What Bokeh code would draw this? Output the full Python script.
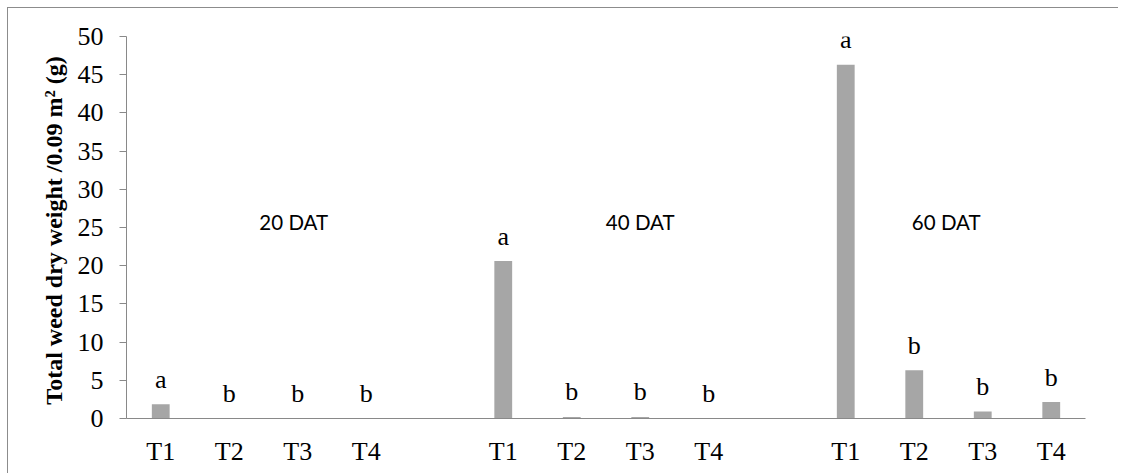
from bokeh.plotting import figure
from bokeh.models import FactorRange, Range1d, FixedTicker, ColumnDataSource
from bokeh.core.properties import value
from bokeh.embed import file_html
from bokeh.resources import INLINE

# ---- data ----
groups = ["20 DAT", "40 DAT", "60 DAT"]
treatments = ["T1", "T2", "T3", "T4"]
dry_weight_20 = [1.85, 0.02, 0.02, 0.02]
dry_weight_40 = [20.6, 0.2, 0.2, 0.05]
dry_weight_60 = [46.3, 6.3, 0.9, 2.15]
letters_20 = ["a", "b", "b", "b"]
letters_40 = ["a", "b", "b", "b"]
letters_60 = ["a", "b", "b", "b"]
y_ticks = [0, 5, 10, 15, 20, 25, 30, 35, 40, 45, 50]
y_title = "Total weed dry weight  /0.09 m\u00b2 (g)"

factors = [(g, t) for g in groups for t in treatments]
values = dry_weight_20 + dry_weight_40 + dry_weight_60
letters = letters_20 + letters_40 + letters_60
src = ColumnDataSource(dict(x=factors, top=values, letter=letters))

SERIF = "Liberation Serif"
GRAY = "#898989"
BAR = "#A6A6A6"

p = figure(
    width=1111, height=466,
    x_range=FactorRange(*factors, group_padding=1.0, range_padding=0),
    y_range=Range1d(0, 50),
    output_backend="svg", toolbar_location=None,
    min_border_left=118, min_border_right=34, min_border_top=28, min_border_bottom=56,
    styles={"margin-left": "8px", "margin-top": "8px", "overflow": "hidden",
            "box-shadow": "-1px -1px 0px 0px #8c8c8c"},
)
p.outline_line_color = None
p.border_fill_color = "white"
p.xgrid.visible = False
p.ygrid.visible = False

p.vbar(x="x", top="top", width=0.26, source=src, fill_color=BAR, line_color=None)

p.text(x="x", y="top", text="letter", source=src, y_offset=-25,
       text_align="center", text_baseline="alphabetic",
       text_font=value(SERIF), text_font_size="26px", text_color="black")

p.text(x=[("20 DAT", "T3"), ("40 DAT", "T3"), ("60 DAT", "T2")], y=[25, 25, 25],
       text=groups, x_offset=[-4, 0, 32], y_offset=-6,
       text_align="center", text_baseline="alphabetic",
       text_font=value("Lato"), text_font_size="20.5px", text_color="black")

# y axis
ya = p.yaxis[0]
ya.ticker = FixedTicker(ticks=y_ticks)
ya.axis_line_color = GRAY
ya.major_tick_line_color = GRAY
ya.major_tick_out = 7
ya.major_tick_in = 0
ya.minor_tick_line_color = None
ya.major_label_standoff = 16
ya.major_label_text_font = SERIF
ya.major_label_text_font_size = "26px"
ya.major_label_text_color = "black"
ya.axis_label = y_title
ya.axis_label_text_font = SERIF
ya.axis_label_text_font_style = "bold"
ya.axis_label_text_font_size = "24px"
ya.axis_label_text_color = "black"
ya.axis_label_standoff = 8

# x axis
xa = p.xaxis[0]
xa.axis_line_color = GRAY
xa.major_tick_line_color = None
xa.minor_tick_line_color = None
xa.major_label_standoff = 12
xa.major_label_text_font = SERIF
xa.major_label_text_font_size = "26px"
xa.major_label_text_color = "black"
xa.group_text_color = None
xa.group_text_font_size = "1px"
xa.separator_line_color = None

open("out.html", "w").write(file_html(p, INLINE))
